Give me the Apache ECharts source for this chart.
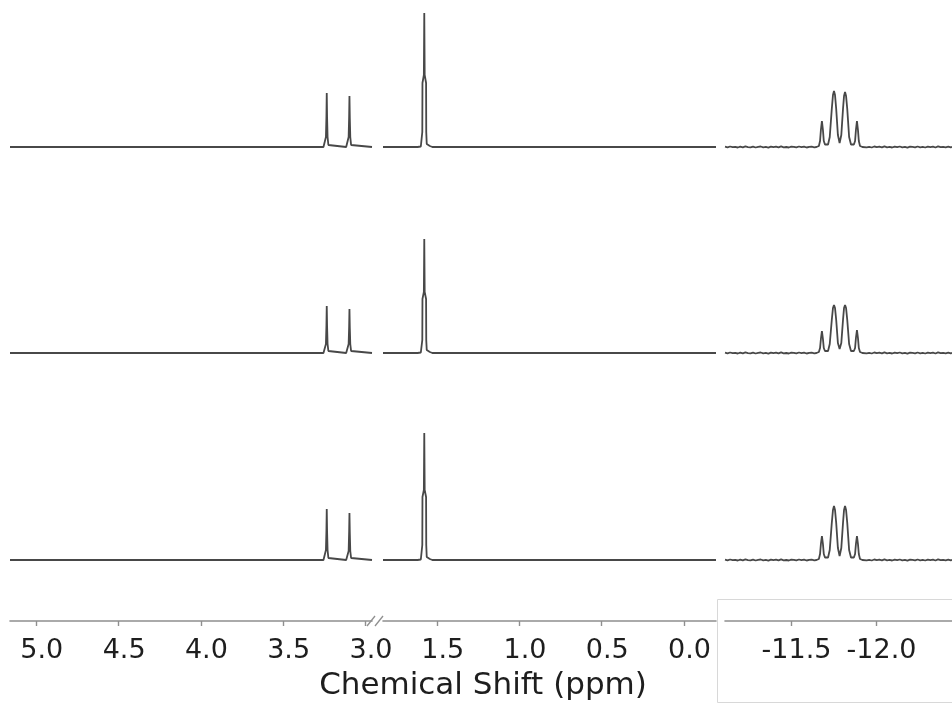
<!DOCTYPE html>
<html>
<head>
<meta charset="utf-8">
<script src="https://cdn.jsdelivr.net/npm/echarts@6/dist/echarts.min.js"></script>
<style>
html,body{margin:0;padding:0;background:#fff;}
#chart{width:952px;height:706px;}
</style>
</head>
<body>
<div id="chart"></div>
<script>
// ---------- DATA ----------
// baseline height of each stacked trace (top, middle, bottom)
const traceOffsets = [474, 268, 61];

// axis ranges (ppm) of the three broken segments
const seg1Range = [2.96, 5.16];
const seg2Range = [-0.195, 1.83];
const seg3Range = [-12.447, -11.112];

// tick labels
const seg1Major = [5.0, 4.5, 4.0, 3.5, 3.0];
const seg1Minor = [4.75, 4.25, 3.75, 3.25];
const seg2Major = [1.5, 1.0, 0.5, 0.0];
const seg2Minor = [1.75, 1.25, 0.75, 0.25];
const seg3Major = [-11.5, -12.0];
const seg3Minor = [-11.25, -11.75, -12.25];

const xAxisTitle = 'Chemical Shift (ppm)';

// segment 1: doublet near 3.24 / 3.10 ppm
const seg1Trace1 = [[5.16,0],[3.255,0],[3.245,2],[3.240,10],[3.237,30],[3.235,54],[3.233,30],[3.230,10],[3.225,2],[3.215,0],[3.117,0],[3.107,2],[3.102,10],[3.099,30],[3.097,51],[3.095,30],[3.092,10],[3.087,2],[3.077,0],[2.96,0]];
const seg1Trace2 = [[5.16,0],[3.255,0],[3.245,2],[3.240,9],[3.237,27],[3.235,47],[3.233,27],[3.230,9],[3.225,2],[3.215,0],[3.117,0],[3.107,2],[3.102,9],[3.099,26],[3.097,44],[3.095,26],[3.092,9],[3.087,2],[3.077,0],[2.96,0]];
const seg1Trace3 = [[5.16,0],[3.255,0],[3.245,2],[3.240,10],[3.237,29],[3.235,51],[3.233,29],[3.230,10],[3.225,2],[3.215,0],[3.117,0],[3.107,2],[3.102,9],[3.099,28],[3.097,47],[3.095,28],[3.092,9],[3.087,2],[3.077,0],[2.96,0]];

// segment 2: main peak near 1.58 ppm
const seg2Trace1 = [[1.83,0],[1.76,0],[1.748,1.2],[1.740,0],[1.700,0],[1.692,1.2],[1.684,0],[1.62,0],[1.600,0.5],[1.593,2],[1.591,15],[1.590,64],[1.5815,72],[1.579,134],[1.5765,72],[1.568,64],[1.567,15],[1.564,3],[1.556,1.5],[1.545,1],[1.53,0],[1.43,0],[1.422,1.2],[1.414,0],[-0.195,0]];
const seg2Trace2 = [[1.83,0],[1.76,0],[1.748,1.2],[1.740,0],[1.700,0],[1.692,1.2],[1.684,0],[1.62,0],[1.600,0.5],[1.593,2],[1.591,13],[1.590,54],[1.5815,61],[1.579,114],[1.5765,61],[1.568,54],[1.567,13],[1.564,3],[1.556,1.5],[1.545,1],[1.53,0],[1.43,0],[1.422,1.2],[1.414,0],[-0.195,0]];
const seg2Trace3 = [[1.83,0],[1.76,0],[1.748,1.2],[1.740,0],[1.700,0],[1.692,1.2],[1.684,0],[1.62,0],[1.600,0.5],[1.593,2],[1.591,15],[1.590,63],[1.5815,70],[1.579,127],[1.5765,70],[1.568,63],[1.567,15],[1.564,3],[1.556,1.5],[1.545,1],[1.53,0],[1.43,0],[1.422,1.2],[1.414,0],[-0.195,0]];

// segment 3: baseline wiggle either side of the multiplet
const seg3NoiseLeft = [[-11.112,0.3],[-11.127,-0.4],[-11.142,0.5],[-11.157,-0.2],[-11.172,0.1],[-11.187,-0.5],[-11.202,0.4],[-11.217,-0.3],[-11.232,0.6],[-11.247,-0.1],[-11.262,-0.4],[-11.277,0.3],[-11.292,-0.5],[-11.307,0.2],[-11.322,0.5],[-11.337,-0.3],[-11.352,0.1],[-11.367,-0.6],[-11.382,0.4],[-11.397,-0.2],[-11.412,0.3],[-11.427,-0.4],[-11.442,0.6],[-11.457,-0.3],[-11.472,0.0],[-11.487,-0.5],[-11.502,0.4],[-11.517,0.2],[-11.532,-0.4],[-11.547,0.5],[-11.562,-0.2],[-11.577,0.3],[-11.592,-0.5],[-11.607,0.1],[-11.622,0.4],[-11.637,-0.3]];
const seg3NoiseRight = [[-11.930,0.4],[-11.945,-0.3],[-11.960,0.2],[-11.975,-0.5],[-11.990,0.5],[-12.005,-0.1],[-12.020,0.3],[-12.035,-0.4],[-12.050,0.6],[-12.065,-0.3],[-12.080,0.1],[-12.095,-0.5],[-12.110,0.4],[-12.125,-0.2],[-12.140,0.5],[-12.155,-0.4],[-12.170,0.2],[-12.185,-0.6],[-12.200,0.3],[-12.215,0.1],[-12.230,-0.4],[-12.245,0.5],[-12.260,-0.3],[-12.275,0.2],[-12.290,-0.5],[-12.305,0.4],[-12.320,-0.1],[-12.335,0.3],[-12.350,-0.5],[-12.365,0.6],[-12.380,-0.2],[-12.395,0.1],[-12.410,-0.4],[-12.425,0.3],[-12.440,-0.3],[-12.447,0.2]];

// segment 3: multiplet near -11.68 ... -11.89 ppm
const seg3Trace1 = [[-11.650,0],[-11.664,1],[-11.671,6],[-11.676,17],[-11.682,26],[-11.688,17],[-11.693,6],[-11.700,2.5],[-11.718,2.5],[-11.728,10],[-11.740,38],[-11.747,52],[-11.753,56],[-11.759,52],[-11.766,38],[-11.776,12],[-11.786,4],[-11.796,12],[-11.806,38],[-11.812,51],[-11.818,55],[-11.824,51],[-11.831,38],[-11.842,10],[-11.853,2.5],[-11.870,2.5],[-11.877,6],[-11.882,17],[-11.888,26],[-11.894,17],[-11.899,6],[-11.906,1],[-11.920,0]];
const seg3Trace2 = [[-11.650,0],[-11.664,1],[-11.671,5],[-11.676,14],[-11.682,22],[-11.688,14],[-11.693,5],[-11.700,2],[-11.718,2],[-11.728,9],[-11.740,33],[-11.747,45],[-11.753,48],[-11.759,45],[-11.766,33],[-11.776,10],[-11.786,4],[-11.796,10],[-11.806,33],[-11.812,45],[-11.818,48],[-11.824,45],[-11.831,33],[-11.842,9],[-11.853,2],[-11.870,2],[-11.877,5],[-11.882,15],[-11.888,23],[-11.894,15],[-11.899,5],[-11.906,1],[-11.920,0]];
const seg3Trace3 = [[-11.650,0],[-11.664,1],[-11.671,6],[-11.676,16],[-11.682,24],[-11.688,16],[-11.693,6],[-11.700,2.5],[-11.718,2.5],[-11.728,10],[-11.740,37],[-11.747,50],[-11.753,54],[-11.759,50],[-11.766,37],[-11.776,12],[-11.786,4],[-11.796,12],[-11.806,37],[-11.812,50],[-11.818,54],[-11.824,50],[-11.831,37],[-11.842,10],[-11.853,2.5],[-11.870,2.5],[-11.877,6],[-11.882,16],[-11.888,24],[-11.894,16],[-11.899,6],[-11.906,1],[-11.920,0]];

// ---------- BUILD ----------
const FONT = 'DejaVu Sans';
const axisColor = '#8f8f8f';
const lineColor = '#484848';

const segTraces = [
  [seg1Trace1, seg1Trace2, seg1Trace3],
  [seg2Trace1, seg2Trace2, seg2Trace3],
  [
    seg3NoiseLeft.concat(seg3Trace1, seg3NoiseRight),
    seg3NoiseLeft.concat(seg3Trace2, seg3NoiseRight),
    seg3NoiseLeft.concat(seg3Trace3, seg3NoiseRight)
  ]
];
const ranges = [seg1Range, seg2Range, seg3Range];
const majors = [seg1Major, seg2Major, seg3Major];
const minors = [seg1Minor, seg2Minor, seg3Minor];

const grids = [
  {left: 10, width: 362, top: 0, bottom: 85},
  {left: 383, width: 333, top: 0, bottom: 85},
  {left: 725, right: 0, top: 0, bottom: 85}
];

const xAxes = [], yAxes = [], series = [];
for (let g = 0; g < 3; g++) {
  xAxes.push({
    type: 'value', gridIndex: g, inverse: true,
    min: ranges[g][0], max: ranges[g][1],
    axisLine: {show: true, lineStyle: {color: axisColor, width: 1.6}},
    axisTick: {show: true, customValues: majors[g], length: 5, lineStyle: {color: axisColor, width: 1.4}},
    axisLabel: {show: true, customValues: majors[g], formatter: v => v.toFixed(1),
      fontFamily: FONT, fontSize: 27, color: '#1e1e1e', margin: 16, padding: [0,0,0,11]},
    splitLine: {show: false}
  });
  xAxes.push({
    type: 'value', gridIndex: g, inverse: true,
    min: ranges[g][0], max: ranges[g][1],
    axisLine: {show: false},
    axisTick: {show: true, customValues: minors[g], length: 3, lineStyle: {color: axisColor, width: 1.2}},
    axisLabel: {show: false},
    splitLine: {show: false}
  });
  yAxes.push({type: 'value', gridIndex: g, min: 0, max: 621, show: false});
  for (let t = 0; t < 3; t++) {
    series.push({
      type: 'line', xAxisIndex: g * 2, yAxisIndex: g,
      showSymbol: false, symbol: 'none', smooth: false,
      lineStyle: {color: lineColor, width: 1.8},
      data: segTraces[g][t].map(p => [p[0], p[1] + traceOffsets[t]]),
      animation: false, silent: true
    });
  }
}

const chart = echarts.init(document.getElementById('chart'));
chart.setOption({
  backgroundColor: '#fff',
  animation: false,
  grid: grids,
  xAxis: xAxes,
  yAxis: yAxes,
  series: series,
  graphic: [
    {type: 'rect', shape: {x: 717.5, y: 599.5, width: 260, height: 103}, style: {fill: 'none', stroke: '#d8d8d8', lineWidth: 1}, z: 0},
    {type: 'line', shape: {x1: 367, y1: 626, x2: 375, y2: 616}, style: {stroke: axisColor, lineWidth: 1.3}},
    {type: 'line', shape: {x1: 375, y1: 626, x2: 383, y2: 616}, style: {stroke: axisColor, lineWidth: 1.3}},
    {type: 'text', x: 483, y: 686, style: {text: xAxisTitle, font: '31px "DejaVu Sans"', fill: '#1e1e1e', textAlign: 'center', textVerticalAlign: 'middle'}}
  ]
});
</script>
</body>
</html>
